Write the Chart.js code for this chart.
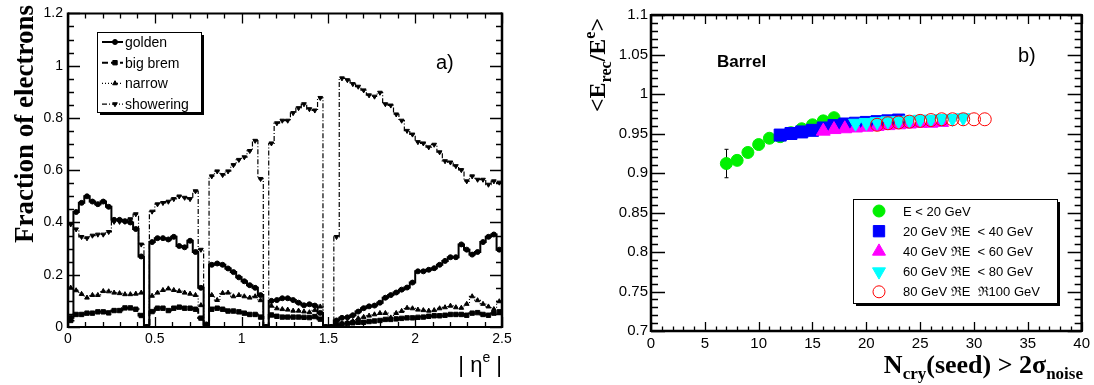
<!DOCTYPE html>
<html>
<head>
<meta charset="utf-8">
<script src="https://cdn.jsdelivr.net/npm/chart.js@4.4.0/dist/chart.umd.min.js"></script>
<style>
  html, body { margin: 0; padding: 0; background: #fff; }
  #wrap { position: relative; width: 1094px; height: 385px; }
  canvas { position: absolute; top: 0; }
  #fracChart { left: 0; }
  #respChart { left: 547px; }
</style>
</head>
<body>
<div id="wrap">
  <canvas id="fracChart" width="547" height="385"></canvas>
  <canvas id="respChart" width="547" height="385"></canvas>
</div>
<script>
// ---- panel a) fraction of electrons in each class vs |eta| ----
const etaMin = 0;
const etaMax = 2.5;

const golden = [
  0.035, 0.44, 0.475, 0.50, 0.48, 0.47, 0.48, 0.46, 0.41, 0.41,
  0.405, 0.40, 0.375, 0.27, 0.0, 0.325, 0.34, 0.34, 0.335, 0.345,
  0.31, 0.305, 0.33, 0.287, 0.15, 0.01, 0.238, 0.243, 0.238, 0.224,
  0.21, 0.19, 0.175, 0.16, 0.15, 0.122, 0.0, 0.10, 0.103, 0.11,
  0.11, 0.103, 0.093, 0.083, 0.087, 0.082, 0.054, 0.0, 0.0, 0.025,
  0.035, 0.037, 0.045, 0.059, 0.072, 0.079, 0.082, 0.093, 0.112, 0.122,
  0.132, 0.143, 0.151, 0.17, 0.213, 0.213, 0.219, 0.225, 0.238, 0.253,
  0.267, 0.267, 0.316, 0.296, 0.277, 0.287, 0.325, 0.345, 0.354, 0.296
];
const bigBrem = [
  0.025, 0.048, 0.048, 0.053, 0.053, 0.058, 0.058, 0.054, 0.063, 0.063,
  0.073, 0.073, 0.068, 0.044, 0.0, 0.059, 0.072, 0.072, 0.063, 0.072,
  0.076, 0.072, 0.072, 0.068, 0.034, 0.0, 0.068, 0.072, 0.068, 0.061,
  0.061, 0.058, 0.053, 0.048, 0.048, 0.038, 0.0, 0.046, 0.041, 0.038,
  0.038, 0.038, 0.038, 0.037, 0.036, 0.040, 0.030, 0.0, 0.0, 0.008,
  0.011, 0.013, 0.016, 0.018, 0.018, 0.021, 0.023, 0.025, 0.029, 0.029,
  0.031, 0.033, 0.035, 0.035, 0.037, 0.038, 0.041, 0.043, 0.043, 0.045,
  0.048, 0.048, 0.048, 0.045, 0.053, 0.055, 0.048, 0.045, 0.053, 0.058
];
const narrow = [
  0.15, 0.14, 0.126, 0.112, 0.122, 0.122, 0.137, 0.136, 0.131, 0.129,
  0.125, 0.125, 0.127, 0.131, 0.0, 0.119, 0.131, 0.141, 0.147, 0.141,
  0.137, 0.131, 0.127, 0.122, 0.083, 0.0, 0.122, 0.103, 0.13, 0.131,
  0.117, 0.122, 0.117, 0.112, 0.117, 0.102, 0.0, 0.081, 0.071, 0.068,
  0.066, 0.062, 0.062, 0.059, 0.056, 0.064, 0.078, 0.0, 0.0, 0.008,
  0.013, 0.018, 0.023, 0.033, 0.038, 0.043, 0.048, 0.053, 0.053, 0.036,
  0.053, 0.061, 0.073, 0.071, 0.066, 0.064, 0.062, 0.064, 0.071, 0.075,
  0.081, 0.075, 0.073, 0.088, 0.117, 0.102, 0.088, 0.078, 0.068, 0.098
];
const showering = [
  0.393, 0.374, 0.345, 0.34, 0.35, 0.354, 0.354, 0.364, 0.403, 0.403,
  0.403, 0.413, 0.432, 0.316, 0.0, 0.442, 0.47, 0.475, 0.48, 0.49,
  0.50, 0.495, 0.49, 0.52, 0.296, 0.0, 0.577, 0.596, 0.582, 0.596,
  0.62, 0.64, 0.65, 0.674, 0.713, 0.567, 0.0, 0.703, 0.78, 0.79,
  0.79, 0.819, 0.838, 0.853, 0.834, 0.829, 0.877, 0.0, 0.0, 0.345,
  0.952, 0.945, 0.93, 0.92, 0.906, 0.887, 0.882, 0.897, 0.853, 0.848,
  0.814, 0.79, 0.751, 0.737, 0.708, 0.703, 0.688, 0.698, 0.669, 0.635,
  0.63, 0.616, 0.601, 0.558, 0.577, 0.564, 0.564, 0.545, 0.558, 0.553
];
const classNames = ['golden', 'big brem', 'narrow', 'showering'];
const fracXTicks = [0, 0.5, 1, 1.5, 2, 2.5];
const fracYTicks = [0, 0.2, 0.4, 0.6, 0.8, 1, 1.2];

// ---- panel b) energy response vs number of crystals ----
const energyLabels = [
  'E < 20 GeV',
  '20 GeV \u211CE  < 40 GeV',
  '40 GeV \u211CE  < 60 GeV',
  '60 GeV \u211CE  < 80 GeV',
  '80 GeV \u211CE  \u211C100 GeV'
];
const nCryE20 = [7, 8, 9, 10, 11, 12, 13, 14, 15, 16, 17];
const respE20 = [0.912, 0.916, 0.926, 0.936, 0.944, 0.946, 0.951, 0.956, 0.961, 0.966, 0.970];
const errE20 = [0.018, 0.006, 0.005, 0.004, 0.004, 0.003, 0.003, 0.003, 0.003, 0.003, 0.003];
const nCryE40 = [12, 13, 14, 15, 16, 17, 18, 19, 20, 21, 22, 23];
const respE40 = [0.948, 0.950, 0.952, 0.954, 0.957, 0.960, 0.962, 0.963, 0.964, 0.965, 0.966, 0.967];
const nCryE60 = [16, 17, 18, 19, 20, 21, 22, 23, 24, 25, 26, 27];
const respE60 = [0.953, 0.955, 0.956, 0.957, 0.958, 0.959, 0.960, 0.961, 0.962, 0.963, 0.963, 0.964];
const nCryE80 = [19, 20, 21, 22, 23, 24, 25, 26, 27, 28, 29];
const respE80 = [0.963, 0.964, 0.965, 0.966, 0.966, 0.967, 0.968, 0.968, 0.969, 0.969, 0.970];
const nCryE100 = [21, 22, 23, 24, 25, 26, 27, 28, 29, 30, 31];
const respE100 = [0.961, 0.963, 0.964, 0.965, 0.966, 0.967, 0.968, 0.968, 0.968, 0.968, 0.968];
const respXTicks = [0, 5, 10, 15, 20, 25, 30, 35, 40];
const respYTicks = [0.7, 0.75, 0.8, 0.85, 0.9, 0.95, 1, 1.05, 1.1];

const SANS = 'Liberation Sans';
const SERIF = 'Liberation Serif';
Chart.defaults.font.family = SANS;
Chart.defaults.color = '#000';

function fmt(v) {
  return String(+(+v).toFixed(2));
}

// Histogram as a stepped line: points at bin centres, plus the two outer edges
function histPoints(vals) {
  const w = (etaMax - etaMin) / vals.length;
  const pts = [{ x: etaMin, y: vals[0] }];
  vals.forEach((v, i) => pts.push({ x: etaMin + (i + 0.5) * w, y: v }));
  pts.push({ x: etaMax, y: vals[vals.length - 1] });
  return pts;
}

function toPoints(xs, ys) {
  return xs.map((x, i) => ({ x: x, y: ys[i] }));
}

// Text with sub/superscripts, optionally rotated
function drawRich(ctx, parts, x, y, align, rot) {
  ctx.save();
  ctx.translate(x, y);
  if (rot) ctx.rotate(rot);
  ctx.textBaseline = 'alphabetic';
  ctx.textAlign = 'left';
  ctx.fillStyle = '#000';
  let w = 0;
  parts.forEach(p => { ctx.font = p.font; w += ctx.measureText(p.t).width; });
  let cx = align === 'center' ? -w / 2 : (align === 'right' ? -w : 0);
  parts.forEach(p => {
    ctx.font = p.font;
    ctx.fillText(p.t, cx, p.dy || 0);
    cx += ctx.measureText(p.t).width;
  });
  ctx.restore();
}

// ROOT-like frame with ticks pointing inwards on all four sides
function drawFrame(chart, f) {
  const ctx = chart.ctx;
  const a = chart.chartArea;
  const xs = chart.scales.x;
  const ys = chart.scales.y;
  ctx.save();
  ctx.strokeStyle = '#000';
  ctx.lineWidth = 1.3;
  const nx = Math.round((xs.max - xs.min) / f.xMinor);
  for (let i = 0; i <= nx; i++) {
    const v = xs.min + i * f.xMinor;
    const major = Math.abs(v / f.xMajor - Math.round(v / f.xMajor)) < 1e-6;
    const len = major ? f.xLenMaj : f.xLenMin;
    const px = Math.round(xs.getPixelForValue(v)) + 0.5;
    ctx.beginPath();
    ctx.moveTo(px, a.bottom); ctx.lineTo(px, a.bottom - len);
    ctx.moveTo(px, a.top); ctx.lineTo(px, a.top + len);
    ctx.stroke();
  }
  const ny = Math.round((ys.max - ys.min) / f.yMinor);
  for (let i = 0; i <= ny; i++) {
    const v = ys.min + i * f.yMinor;
    const major = Math.abs(v / f.yMajor - Math.round(v / f.yMajor)) < 1e-6;
    const len = major ? f.yLenMaj : f.yLenMin;
    const py = Math.round(ys.getPixelForValue(v)) + 0.5;
    ctx.beginPath();
    ctx.moveTo(a.left, py); ctx.lineTo(a.left + len, py);
    ctx.moveTo(a.right, py); ctx.lineTo(a.right - len, py);
    ctx.stroke();
  }
  ctx.lineWidth = f.hWidth;
  ctx.beginPath();
  ctx.moveTo(a.left, a.top); ctx.lineTo(a.right, a.top);
  ctx.moveTo(a.left, a.bottom); ctx.lineTo(a.right, a.bottom);
  ctx.stroke();
  ctx.lineWidth = f.vWidth;
  ctx.beginPath();
  ctx.moveTo(a.left, a.top - 1); ctx.lineTo(a.left, a.bottom + 1);
  ctx.moveTo(a.right, a.top - 1); ctx.lineTo(a.right, a.bottom + 1);
  ctx.stroke();
  ctx.restore();
}

function legendBox(ctx, x, y, w, h) {
  ctx.save();
  ctx.fillStyle = '#000';
  ctx.fillRect(x + 3, y + 3, w, h);
  ctx.fillStyle = '#fff';
  ctx.fillRect(x, y, w, h);
  ctx.strokeStyle = '#000';
  ctx.lineWidth = 1;
  ctx.strokeRect(x + 0.5, y + 0.5, w, h);
  ctx.restore();
}

function drawMarker(ctx, style, x, y, fill, stroke) {
  ctx.save();
  ctx.fillStyle = fill;
  ctx.strokeStyle = stroke;
  Chart.helpers.drawPoint(ctx, {
    pointStyle: style.pointStyle,
    radius: style.radius,
    rotation: style.rotation || 0,
    borderWidth: style.borderWidth || 1
  }, x, y);
  ctx.restore();
}

// ---------------- panel a ----------------
const classStyles = [
  { pointStyle: 'circle', radius: 2.5, rotation: 0, dash: [], width: 2 },
  { pointStyle: 'rect', radius: 3.1, rotation: 0, dash: [6, 3], width: 2 },
  { pointStyle: 'triangle', radius: 2.7, rotation: 0, dash: [1, 2], width: 1.2 },
  { pointStyle: 'triangle', radius: 2.7, rotation: 180, dash: [5, 2, 1, 2], width: 1.2 }
];
const classSeries = [golden, bigBrem, narrow, showering];

const fracPlugin = {
  id: 'fracDecor',
  afterDraw(chart) {
    const ctx = chart.ctx;
    drawFrame(chart, {
      xMinor: 0.1, xMajor: 0.5, xLenMaj: 10, xLenMin: 5,
      yMinor: 0.05, yMajor: 0.2, yLenMaj: 12, yLenMin: 6,
      hWidth: 2, vWidth: 2.5
    });

    // legend
    legendBox(ctx, 97, 32, 104, 80);
    classNames.forEach((name, i) => {
      const st = classStyles[i];
      const yy = 42 + i * 20.7;
      ctx.save();
      ctx.strokeStyle = '#000';
      ctx.lineWidth = st.width;
      ctx.setLineDash(st.dash);
      ctx.beginPath();
      ctx.moveTo(102, yy); ctx.lineTo(123, yy);
      ctx.stroke();
      ctx.restore();
      drawMarker(ctx, st, 115, yy, '#000', '#000');
      ctx.save();
      ctx.fillStyle = '#000';
      ctx.font = '14px ' + SANS;
      ctx.textBaseline = 'middle';
      ctx.fillText(name, 125, yy + 1);
      ctx.restore();
    });

    // panel label
    ctx.save();
    ctx.fillStyle = '#000';
    ctx.font = '20px ' + SANS;
    ctx.fillText('a)', 436, 69);
    ctx.restore();

    // axis titles
    drawRich(ctx, [{ t: 'Fraction of electrons', font: 'bold 27px ' + SERIF }],
      33, 124, 'center', -Math.PI / 2);
    drawRich(ctx, [
      { t: '| \u03B7', font: '22px ' + SANS },
      { t: 'e', font: '14px ' + SANS, dy: -10 },
      { t: ' |', font: '22px ' + SANS }
    ], 502, 372, 'right', 0);
  }
};

new Chart(document.getElementById('fracChart'), {
  type: 'line',
  data: {
    datasets: classSeries.map((vals, i) => ({
      label: classNames[i],
      data: histPoints(vals),
      stepped: 'middle',
      borderColor: '#000',
      borderWidth: classStyles[i].width,
      borderDash: classStyles[i].dash,
      fill: false,
      pointStyle: classStyles[i].pointStyle,
      pointRotation: classStyles[i].rotation,
      pointBackgroundColor: '#000',
      pointBorderColor: '#000',
      pointBorderWidth: 1,
      pointRadius: ctx => (ctx.dataIndex === 0 || ctx.dataIndex === vals.length + 1) ? 0 : classStyles[i].radius
    }))
  },
  options: {
    responsive: false,
    animation: false,
    devicePixelRatio: 1,
    layout: { padding: { left: 0, right: 45, top: 7, bottom: 0 } },
    plugins: { legend: { display: false }, tooltip: { enabled: false } },
    scales: {
      x: {
        type: 'linear', min: etaMin, max: etaMax,
        afterBuildTicks: s => { s.ticks = fracXTicks.map(v => ({ value: v })); },
        afterFit: s => { s.height = 58; },
        grid: { display: false, drawTicks: false },
        border: { display: false },
        ticks: { padding: 4, maxRotation: 0, autoSkip: false, font: { size: 14 }, callback: v => fmt(v) }
      },
      y: {
        type: 'linear', min: 0, max: 1.2,
        afterBuildTicks: s => { s.ticks = fracYTicks.map(v => ({ value: v })); },
        afterFit: s => { s.width = 68; },
        grid: { display: false, drawTicks: false },
        border: { display: false },
        ticks: { padding: 5, autoSkip: false, font: { size: 14 }, callback: v => fmt(v) }
      }
    }
  },
  plugins: [fracPlugin]
});

// ---------------- panel b ----------------
const energyStyles = [
  { pointStyle: 'circle', radius: 6, fill: '#00f000', stroke: '#00f000' },
  { pointStyle: 'rect', radius: 8.5, fill: '#0000ff', stroke: '#0000ff' },
  { pointStyle: 'triangle', radius: 8, rotation: 0, fill: '#ff00ff', stroke: '#ff00ff' },
  { pointStyle: 'triangle', radius: 8, rotation: 180, fill: '#00ffff', stroke: '#00ffff' },
  { pointStyle: 'circle', radius: 6.5, fill: 'rgba(0,0,0,0)', stroke: '#ff0000' }
];
const energySeries = [
  toPoints(nCryE20, respE20),
  toPoints(nCryE40, respE40),
  toPoints(nCryE60, respE60),
  toPoints(nCryE80, respE80),
  toPoints(nCryE100, respE100)
];

const respPlugin = {
  id: 'respDecor',
  beforeDatasetsDraw(chart) {
    // error bars of the lowest energy bin
    const ctx = chart.ctx;
    const xs = chart.scales.x;
    const ys = chart.scales.y;
    ctx.save();
    ctx.strokeStyle = '#000';
    ctx.lineWidth = 1;
    nCryE20.forEach((n, i) => {
      const px = Math.round(xs.getPixelForValue(n)) + 0.5;
      const y1 = ys.getPixelForValue(respE20[i] - errE20[i]);
      const y2 = ys.getPixelForValue(respE20[i] + errE20[i]);
      ctx.beginPath();
      ctx.moveTo(px, y1); ctx.lineTo(px, y2);
      ctx.moveTo(px - 2, y1); ctx.lineTo(px + 2, y1);
      ctx.moveTo(px - 2, y2); ctx.lineTo(px + 2, y2);
      ctx.stroke();
    });
    ctx.restore();
  },
  afterDraw(chart) {
    const ctx = chart.ctx;
    drawFrame(chart, {
      xMinor: 1, xMajor: 5, xLenMaj: 9, xLenMin: 4.5,
      yMinor: 0.01, yMajor: 0.05, yLenMaj: 14, yLenMin: 7,
      hWidth: 2.5, vWidth: 2.5
    });

    // legend (canvas coords are offset by 547)
    legendBox(ctx, 306, 199, 204, 104);
    energyLabels.forEach((lab, i) => {
      const yy = 211 + i * 20.2;
      const st = energyStyles[i];
      drawMarker(ctx, Object.assign({}, st, { radius: st.pointStyle === 'rect' ? 8 : (st.pointStyle === 'triangle' ? 7.5 : 6) }), 332, yy, st.fill, st.stroke);
      ctx.save();
      ctx.fillStyle = '#000';
      ctx.font = '13px ' + SANS;
      ctx.textBaseline = 'middle';
      ctx.fillText(lab, 356, yy + 1);
      ctx.restore();
    });

    ctx.save();
    ctx.fillStyle = '#000';
    ctx.font = 'bold 17px ' + SANS;
    ctx.fillText('Barrel', 170, 67);
    ctx.font = '20px ' + SANS;
    ctx.fillText('b)', 471, 62);
    ctx.restore();

    drawRich(ctx, [
      { t: '<E', font: 'bold 24px ' + SERIF },
      { t: 'rec', font: 'bold 16px ' + SERIF, dy: 6 },
      { t: '/E', font: 'bold 24px ' + SERIF },
      { t: 'e', font: 'bold 16px ' + SERIF, dy: -10 },
      { t: '>', font: 'bold 24px ' + SERIF }
    ], 58, 65, 'center', -Math.PI / 2);
    drawRich(ctx, [
      { t: 'N', font: 'bold 26px ' + SERIF },
      { t: 'cry', font: 'bold 17px ' + SERIF, dy: 6 },
      { t: '(seed) > 2\u03C3', font: 'bold 26px ' + SERIF },
      { t: 'noise', font: 'bold 17px ' + SERIF, dy: 6 }
    ], 536, 373, 'right', 0);
  }
};

new Chart(document.getElementById('respChart'), {
  type: 'scatter',
  data: {
    datasets: energySeries.map((pts, i) => ({
      label: energyLabels[i],
      data: pts,
      order: 5 - i,
      showLine: false,
      pointStyle: energyStyles[i].pointStyle,
      pointRotation: energyStyles[i].rotation || 0,
      pointRadius: energyStyles[i].radius,
      pointBackgroundColor: energyStyles[i].fill,
      pointBorderColor: energyStyles[i].stroke,
      pointBorderWidth: 1
    }))
  },
  options: {
    responsive: false,
    animation: false,
    devicePixelRatio: 1,
    layout: { padding: { left: 0, right: 9, top: 15, bottom: 0 } },
    plugins: { legend: { display: false }, tooltip: { enabled: false } },
    scales: {
      x: {
        type: 'linear', min: 0, max: 40,
        afterBuildTicks: s => { s.ticks = respXTicks.map(v => ({ value: v })); },
        afterFit: s => { s.height = 54; },
        grid: { display: false, drawTicks: false },
        border: { display: false },
        ticks: { padding: 4, maxRotation: 0, autoSkip: false, font: { size: 15 }, callback: v => fmt(v) }
      },
      y: {
        type: 'linear', min: 0.7, max: 1.1,
        afterBuildTicks: s => { s.ticks = respYTicks.map(v => ({ value: v })); },
        afterFit: s => { s.width = 104; },
        grid: { display: false, drawTicks: false },
        border: { display: false },
        ticks: { padding: 3, autoSkip: false, font: { size: 15 }, callback: v => fmt(v) }
      }
    }
  },
  plugins: [respPlugin]
});
</script>
</body>
</html>
